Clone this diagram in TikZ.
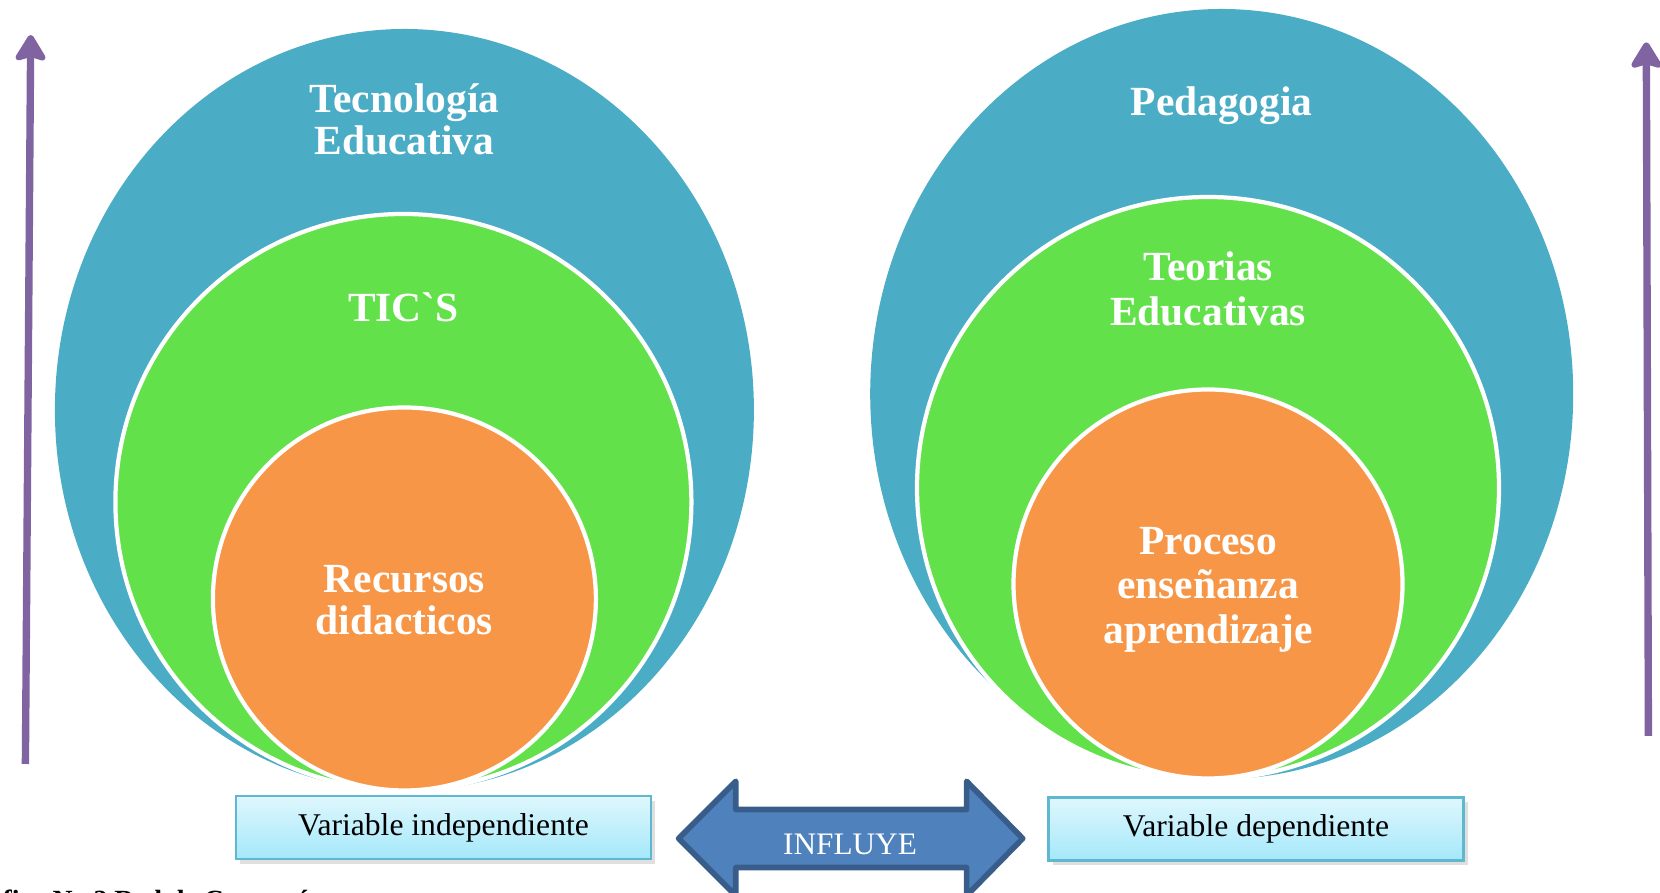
\documentclass[tikz,border=0pt]{standalone}
\usepackage{fontspec}
\setmainfont{Liberation Serif}
\usepackage{tikz}
\usetikzlibrary{arrows.meta,shapes,positioning,shadows}
\definecolor{ctblue}{RGB}{75,172,198}
\definecolor{ctgreen}{RGB}{99,225,74}
\definecolor{ctorange}{RGB}{247,150,70}
\definecolor{ctpurple}{RGB}{128,100,162}
\definecolor{ctarrow}{RGB}{79,129,189}
\definecolor{ctarrowdark}{RGB}{56,93,138}
\definecolor{ctboxtop}{RGB}{223,247,253}
\definecolor{ctboxbot}{RGB}{164,232,250}
\definecolor{ctboxline}{RGB}{96,184,208}
\tikzstyle{bluecirc} = [ellipse, fill=ctblue, inner sep=0pt]
\tikzstyle{greencirc} = [circle, fill=ctgreen, draw=white, line width=1.2pt, inner sep=0pt]
\tikzstyle{orangecirc} = [circle, fill=ctorange, draw=white, line width=1.2pt, inner sep=0pt]
\tikzstyle{circtext} = [text=white, font=\fontsize{11.8}{12}\selectfont\bfseries, align=center]
\tikzstyle{varbox} = [rectangle, minimum width=4.15cm, minimum height=0.63cm, top color=ctboxtop, bottom color=ctboxbot, draw=ctboxline, line width=0.8pt, font=\fontsize{9}{10}\selectfont, drop shadow={opacity=0.25, shadow xshift=0.04cm, shadow yshift=-0.05cm}]
\tikzstyle{varrow} = [line width=2.1pt, color=ctpurple, -{Stealth[length=0.3cm, width=0.36cm, inset=0.05cm, round]}]
\tikzstyle{influye} = [fill=ctarrow, draw=ctarrowdark, line width=1.6pt, line join=round]

\begin{document}
\begin{tikzpicture}
    \useasboundingbox (0,0) rectangle (16.6,8.93);
    \clip (0,0) rectangle (16.6,8.93);

    % Left: independent variable
    \node[bluecirc, minimum width=6.99cm, minimum height=7.62cm] (tec) at (4.044, 4.83) {};
    \node[greencirc, minimum size=5.76cm] (tics) at (4.034, 3.91) {};
    \node[orangecirc, minimum size=3.83cm] (rec) at (4.044, 2.94) {};
    \node[circtext] (tectxt) at (4.044, 7.734) {Tecnología\\Educativa};
    \node[circtext] (ticstxt) at (4.034, 5.86) {TIC\textasciigrave S};
    \node[circtext] (rectxt) at (4.044, 2.932) {Recursos\\didacticos};

    % Right: dependent variable
    \node[bluecirc, minimum width=7.03cm, minimum height=7.70cm] (ped) at (12.217, 4.99) {};
    \node[greencirc, minimum size=5.82cm] (teo) at (12.08, 4.05) {};
    \node[orangecirc, minimum size=3.89cm] (proc) at (12.08, 3.09) {};
    \node[circtext] (pedtxt) at (12.217, 7.874) {Pedagogia};
    \node[circtext, font=\fontsize{11.8}{12.6}\selectfont\bfseries] (teotxt) at (12.08, 6.04) {Teorias\\Educativas};
    \node[circtext, font=\fontsize{11.8}{12.6}\selectfont\bfseries] (proctxt) at (12.08, 3.033) {Proceso\\enseñanza\\aprendizaje};

    % Variables
    \node[varbox] (vind) at (4.435, 0.655) {Variable independiente};
    \node[varbox] (vdep) at (12.56, 0.64) {Variable dependiente};

    % Influence arrow
    \draw[influye] (6.786,0.545) -- (7.358,1.117) -- (7.358,0.835) -- (9.666,0.835)
        -- (9.666,1.117) -- (10.227,0.545) -- (9.666,-0.027) -- (9.666,0.255)
        -- (7.358,0.255) -- (7.358,-0.027) -- cycle;
    \node[text=white, font=\fontsize{8.9}{10}\selectfont] (infl) at (8.5, 0.49) {INFLUYE};

    % Side arrows
    \coordinate (l0) at (0.254, 1.29);
    \coordinate (l1) at (0.307, 8.58);
    \coordinate (r0) at (16.484, 1.572);
    \coordinate (r1) at (16.463, 8.507);
    \draw[varrow] (l0) -- (l1);
    \draw[varrow] (r0) -- (r1);

    % Caption
    \node[anchor=base west, inner sep=0pt, font=\fontsize{7.9}{9}\selectfont\bfseries] (cap) at (-0.46, -0.17) {Gráfico No 2 Red de Categorías};
\end{tikzpicture}
\end{document}
